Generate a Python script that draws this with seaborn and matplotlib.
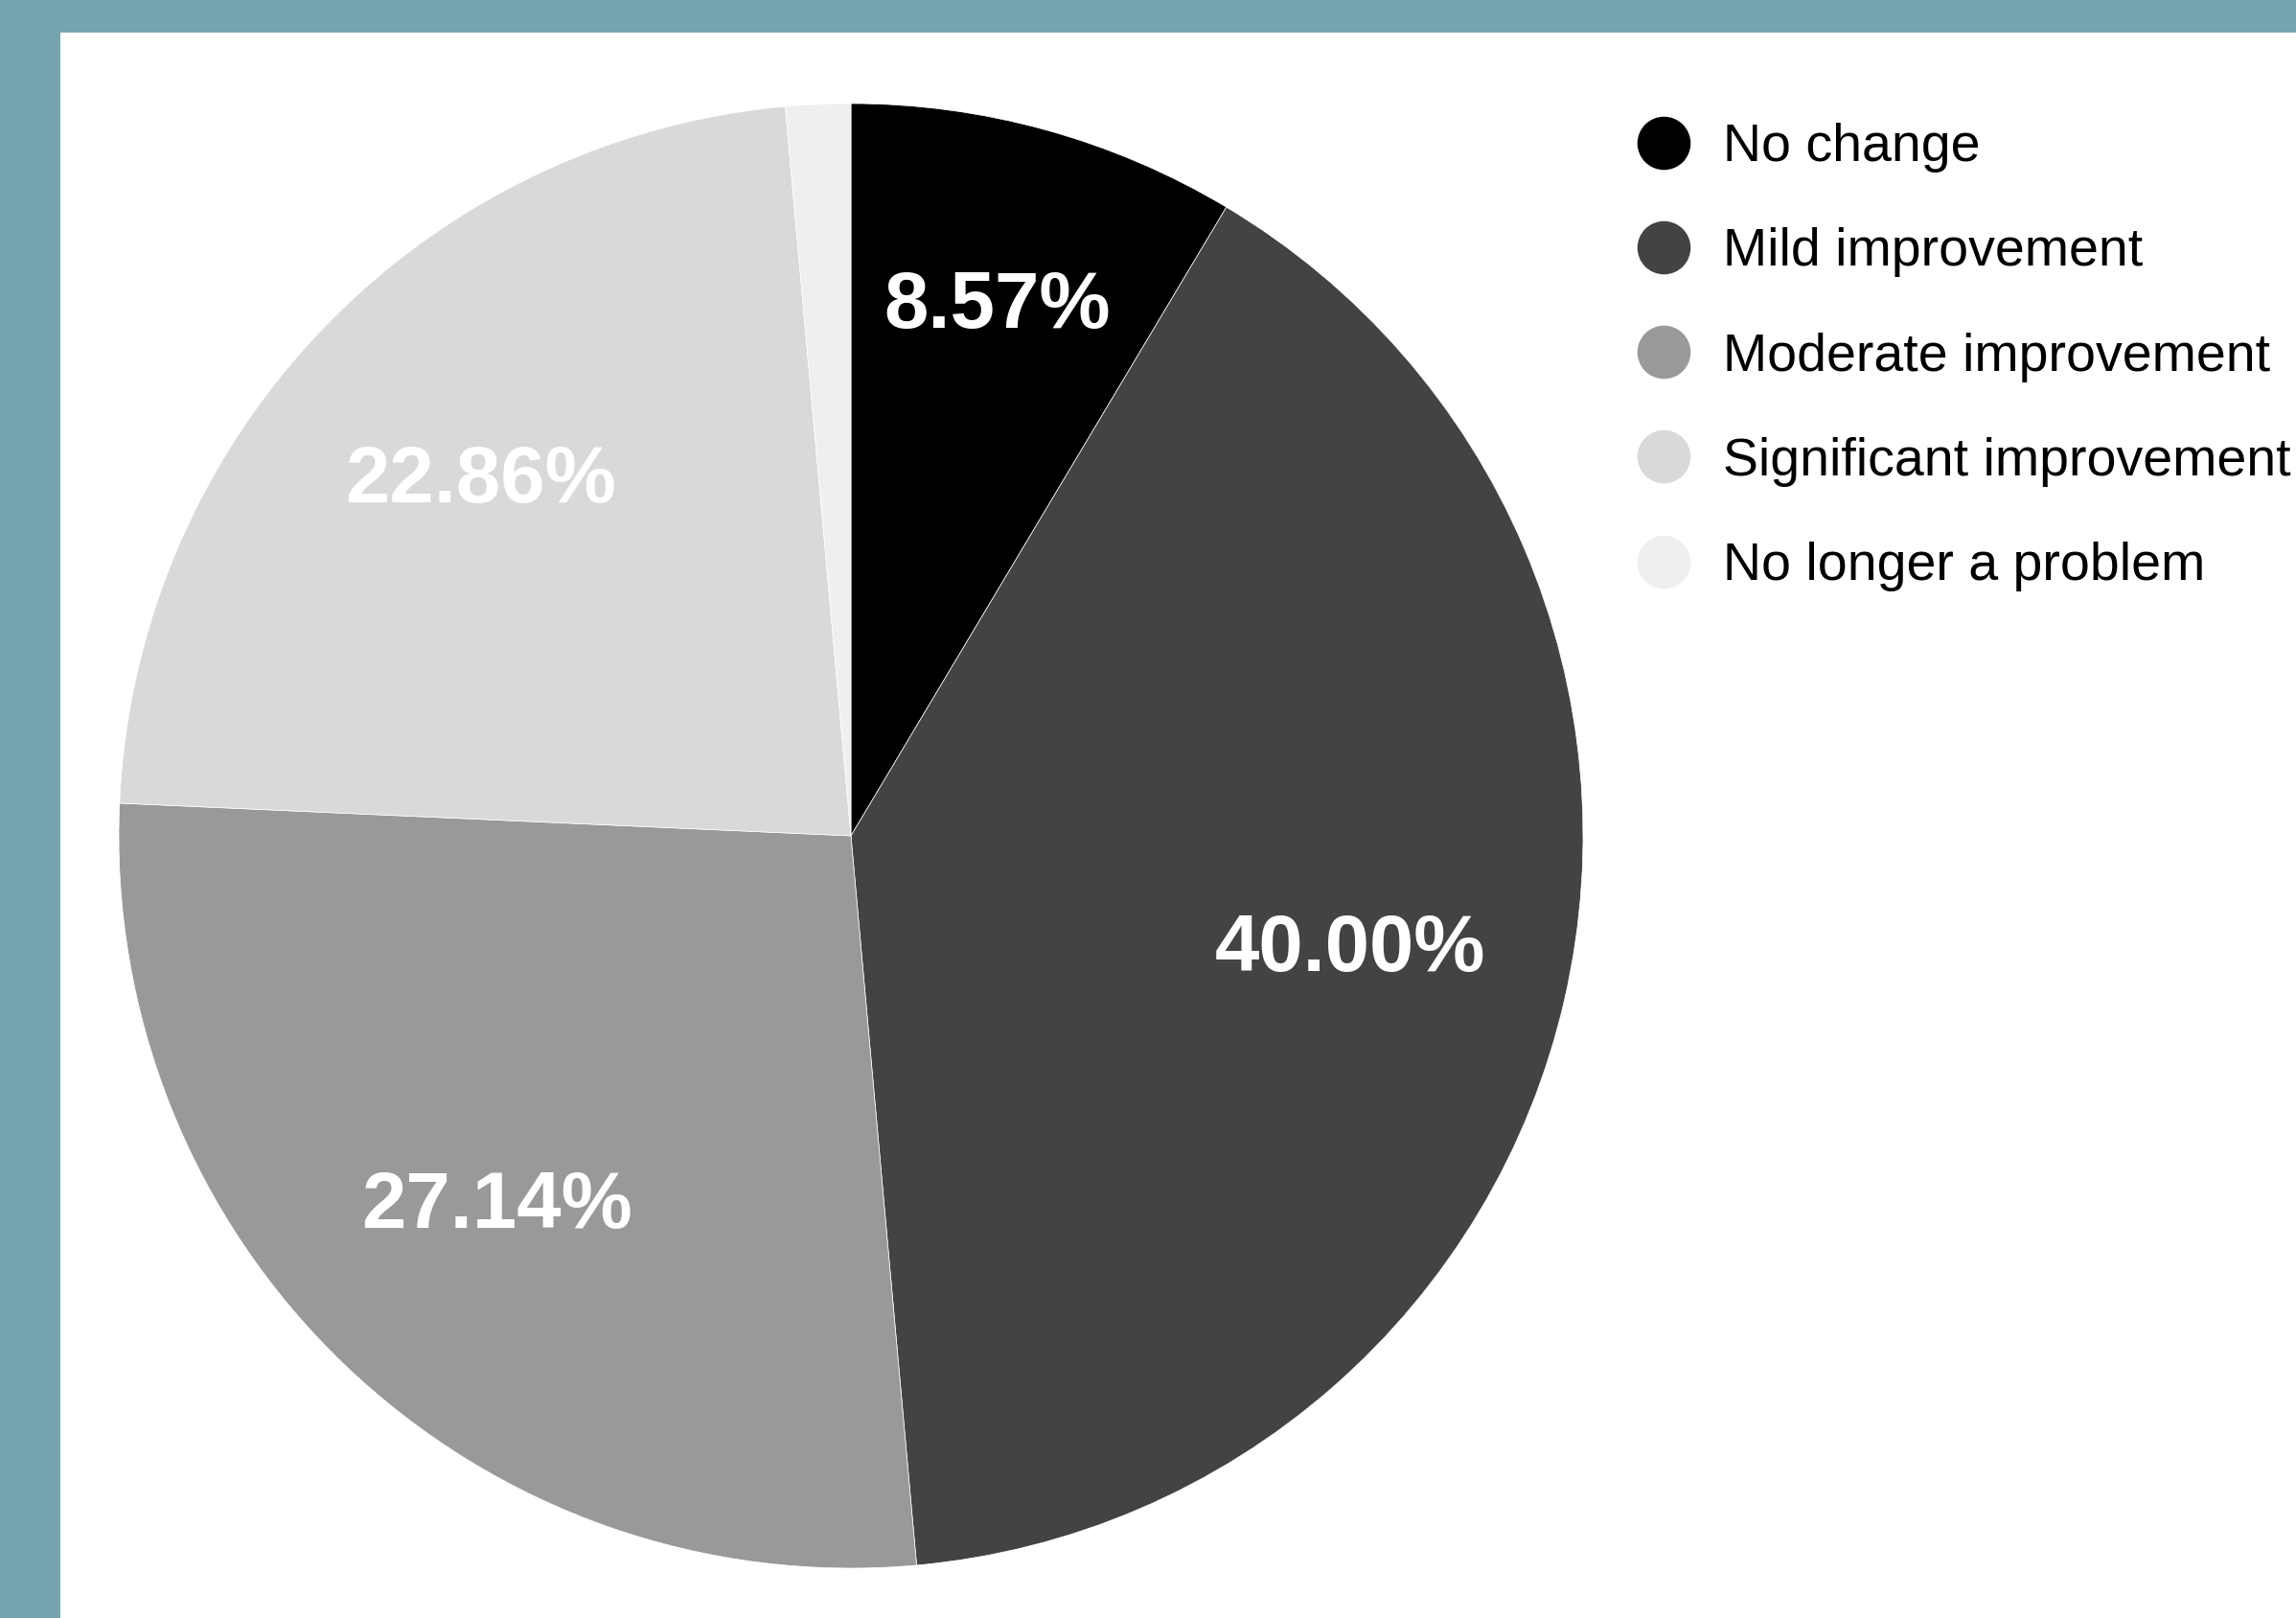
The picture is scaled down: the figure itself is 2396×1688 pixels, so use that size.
"""
Pie chart of reported change after treatment, grey scale with a teal frame.
"""

import numpy as np
import matplotlib.pyplot as plt
import matplotlib.patches as mpatches
from matplotlib.lines import Line2D
import seaborn as sns

categories = [
    "No change",
    "Mild improvement",
    "Moderate improvement",
    "Significant improvement",
    "No longer a problem",
]
shares = [8.57, 40.00, 27.14, 22.86, 1.43]
slice_colors = ["#000000", "#434343", "#999999", "#d9d9d9", "#efefef"]

FRAME_COLOR = "#76a5af"

sns.set_theme(style="white")
plt.rcParams["font.family"] = ["Liberation Sans", "DejaVu Sans"]

fig = plt.figure(figsize=(23.96, 16.88), dpi=100)
fig.patch.set_facecolor(FRAME_COLOR)

# white panel, teal strip on the left and top
panel = mpatches.Rectangle(
    (63 / 2396, 0), 1 - 63 / 2396, 1 - 34 / 1688,
    transform=fig.transFigure, facecolor="white", edgecolor="none", zorder=-5,
)
fig.patches.append(panel)

ax = fig.add_axes([124 / 2396, 52 / 1688, 1528 / 2396, 1528 / 1688])
ax.set_zorder(2)
ax.set_facecolor("none")

wedges, _, autotexts = ax.pie(
    shares,
    colors=slice_colors,
    startangle=90,
    counterclock=False,
    autopct=lambda p: f"{p:.2f}%" if p > 5 else "",
    pctdistance=0.70,
    wedgeprops={"linewidth": 0.5, "edgecolor": "white"},
    textprops={"color": "white", "fontsize": 60, "fontweight": "bold"},
)
# the narrow first slice carries its label a little further out
w0 = wedges[0]
mid = np.deg2rad((w0.theta1 + w0.theta2) / 2)
autotexts[0].set_position((0.75 * np.cos(mid), 0.75 * np.sin(mid)))

ax.set_xlim(-1, 1)
ax.set_ylim(-1, 1)
ax.set_aspect("equal")
ax.axis("off")

handles = [
    Line2D([0], [0], marker="o", linestyle="none", markersize=40,
           markerfacecolor=c, markeredgecolor="none")
    for c in slice_colors
]
leg = fig.legend(
    handles,
    categories,
    loc="upper left",
    bbox_to_anchor=(1686 / 2396, 1 - 106 / 1688),
    frameon=False,
    fontsize=40,
    handlelength=1.0,
    handletextpad=0.62,
    labelspacing=1.03,
    borderaxespad=0,
)
for t in leg.get_texts():
    t.set_color("black")

fig.savefig("out.png", dpi=100, facecolor=fig.get_facecolor())
plt.close(fig)
